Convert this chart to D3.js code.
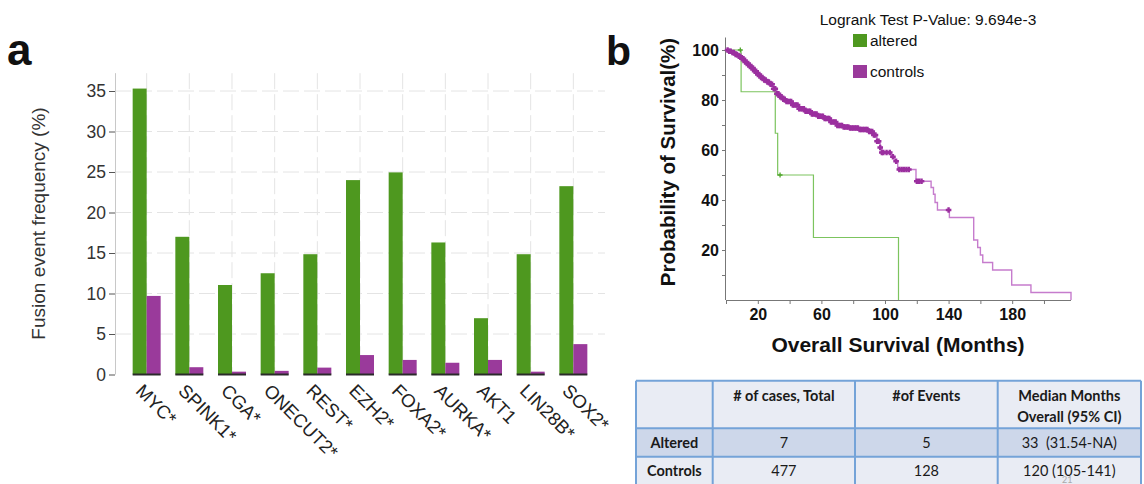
<!DOCTYPE html>
<html><head><meta charset="utf-8">
<script src="https://cdn.jsdelivr.net/npm/d3@7"></script>
<style>
html,body{margin:0;padding:0;background:#fff;}
svg{display:block;}
text{white-space:pre;}
</style></head><body>
<svg id="c" width="1144" height="484"></svg>
<script>
// ---------- Panel a data ----------
const genes = ["MYC*","SPINK1*","CGA*","ONECUT2*","REST*","EZH2*","FOXA2*","AURKA*","AKT1","LIN28B*","SOX2*"];
const alteredFreq = [35.3,17.0,11.05,12.5,14.85,24.0,24.95,16.3,6.95,14.85,23.25];
const controlFreq = [9.7,0.9,0.35,0.45,0.85,2.4,1.8,1.45,1.8,0.35,3.75];
const freqTicks = [0,5,10,15,20,25,30,35];
const freqLabel = "Fusion event frequency (%)";

// ---------- Panel b data ----------
const alteredTimes = [0,9.5,31,32.5,55,108.5];
const alteredSurv  = [100,83.3,66.7,50,25,0];
const alteredCensorT = [9,34];
const controlTimes = [0,2,4,6,8,10,12,14,16,18,20,22,24,26,28,30,32,34,36,38,42,46,50,54,58,62,66,70,74,78,84,90,93,95,97,98,104,106,108,119.5,129,130.5,131.5,133,140.5,155.8,158.3,160,161.5,167.7,179.7,191.8,217];
const controlSurv  = [100,99.5,99,98.2,97.5,96.5,95.2,94,92.8,91.5,90.2,89,88,87.2,86.3,84.5,82.5,81.3,80.3,79.4,78,76.5,75.5,74.4,73.5,72.6,71.2,69.8,69.2,68.8,68.2,67.4,66,63.5,61,59,57.3,55.5,52.2,47.5,45,42.3,39,36,33,24,21,18,15,12,6,3,0];
const controlCensorT = [1,2,3,4,5,6,7,8,9,10,11,12,13,14,15,16,17,18,19,20,21,22,23,24,25,26,27,28,29,30,31,32,33,34,35,36,37,38,39,40,41,42,43,44,45,46,47,48,49,50,51,52,53,54,55,56,57,58,59,60,61,62,63,64,65,66,67,68,69,70,71,72,73,74,75,76,77,78,79,80,81,82,83,84,85,86,87,88,89,90,91,92,93,94,95,96,97,98,99,101,103,105,107,109,110.5,112,113.5,115,120,121.5,123,140];
const survXTicks = [0,20,40,60,80,100,120,140,160,180,200];
const survXLabels = [20,60,100,140,180];
const survYTicks = [10,20,30,40,50,60,70,80,90,100];
const survYLabels = [20,40,60,80,100];
const pValueText = "Logrank Test P-Value: 9.694e-3";
const legendLabels = ["altered","controls"];
const survXTitle = "Overall Survival (Months)";
const survYTitle = "Probability of Survival(%)";

// ---------- Table data ----------
const tableHeader = ["", "# of cases, Total", "#of Events", "Median Months|Overall (95% CI)"];
const tableRows = [["Altered","7","5","33  (31.54-NA)"],["Controls","477","128","120 (105-141)"]];

const GREEN = "#4e981f", PURPLE = "#9a3a9b";
const svg = d3.select("#c");

// ================= Panel a =================
const ga = svg.append("g");
const ax = d3.scaleBand().domain(genes).range([115,605]).paddingInner(0.344).paddingOuter(0.414);
const ay = d3.scaleLinear().domain([0,35]).range([374.5,91]);
const yTop = ay(37.2);
const bw = ax.bandwidth();

ga.append("g").selectAll("line").data(freqTicks.filter(d=>d>0)).join("line")
  .attr("x1",115).attr("x2",605).attr("y1",d=>ay(d)).attr("y2",d=>ay(d))
  .attr("stroke","#e4e4e4").attr("stroke-width",1).attr("stroke-dasharray","16,5");
ga.append("g").selectAll("line").data(genes).join("line")
  .attr("x1",d=>ax(d)+bw/2).attr("x2",d=>ax(d)+bw/2).attr("y1",yTop).attr("y2",ay(0))
  .attr("stroke","#e4e4e4").attr("stroke-width",1).attr("stroke-dasharray","16,5");

ga.append("g").selectAll("rect").data(genes).join("rect")
  .attr("x",d=>ax(d)).attr("width",bw/2)
  .attr("y",(d,i)=>ay(alteredFreq[i])).attr("height",(d,i)=>ay(0)-ay(alteredFreq[i]))
  .attr("fill",GREEN);
ga.append("g").selectAll("rect").data(genes).join("rect")
  .attr("x",d=>ax(d)+bw/2).attr("width",bw/2)
  .attr("y",(d,i)=>ay(controlFreq[i])).attr("height",(d,i)=>ay(0)-ay(controlFreq[i]))
  .attr("fill",PURPLE);
ga.append("g").selectAll("line").data(genes).join("line")
  .attr("x1",d=>ax(d)).attr("x2",d=>ax(d)+bw).attr("y1",ay(0)).attr("y2",ay(0))
  .attr("stroke","#2a2a2a").attr("stroke-width",2);

const yAxisA = ga.append("g").attr("transform","translate(115,0)")
  .call(d3.axisLeft(ay).tickValues(freqTicks).tickSize(6).tickPadding(3));
yAxisA.select(".domain").remove();
yAxisA.selectAll(".tick line").attr("stroke","#555");
yAxisA.selectAll(".tick text").attr("font-family","Liberation Sans, Arial, sans-serif").attr("font-size",17.5).attr("fill","#333");
ga.append("line").attr("x1",115.5).attr("x2",115.5).attr("y1",yTop).attr("y2",ay(0))
  .attr("stroke","#c8c8c8").attr("stroke-width",1);

ga.append("g").selectAll("text").data(genes).join("text")
  .attr("transform",d=>`translate(${ax(d)+bw/2-12},392) rotate(45)`)
  .attr("font-family","Liberation Sans, Arial, sans-serif").attr("font-size",18.5).attr("fill","#222")
  .text(d=>d);

ga.append("text").attr("transform",`translate(45,${(105+342)/2}) rotate(-90)`)
  .attr("text-anchor","middle").attr("font-family","Liberation Sans, Arial, sans-serif")
  .attr("font-size",19).attr("fill","#333").text(freqLabel);

svg.append("text").attr("x",7).attr("y",65).attr("font-family","Liberation Sans, Arial, sans-serif")
  .attr("font-weight","bold").attr("font-size",44).attr("fill","#111").text("a");
svg.append("text").attr("x",606).attr("y",65).attr("font-family","Liberation Sans, Arial, sans-serif")
  .attr("font-weight","bold").attr("font-size",41).attr("fill","#111").text("b");

// ================= Panel b =================
const gb = svg.append("g");
const sx = d3.scaleLinear().domain([0,217]).range([726,1071]);
const sy = d3.scaleLinear().domain([0,105]).range([300,37.5]);
const FONT = "Liberation Sans, Arial, sans-serif";

const xAx = gb.append("g").attr("transform","translate(0,300)")
  .call(d3.axisBottom(sx).tickValues(survXTicks).tickSize(4).tickFormat(d=>survXLabels.includes(d)?d:"").tickPadding(5));
xAx.select(".domain").attr("stroke","#777").attr("d","M726,0.5H1071");
xAx.selectAll(".tick line").attr("stroke","#777");
xAx.selectAll(".tick text").attr("font-family",FONT).attr("font-weight","bold").attr("font-size",16).attr("fill","#111");

const yAx = gb.append("g").attr("transform","translate(726,0)")
  .call(d3.axisLeft(sy).tickValues(survYTicks).tickSize(4).tickFormat(d=>survYLabels.includes(d)?d:"").tickPadding(3));
yAx.select(".domain").attr("stroke","#777").attr("d","M-0.5,37.5V300");
yAx.selectAll(".tick line").attr("stroke","#777");
yAx.selectAll(".tick text").attr("font-family",FONT).attr("font-weight","bold").attr("font-size",16).attr("fill","#111");

const stepLine = d3.line().x(d=>sx(d[0])).y(d=>sy(d[1])).curve(d3.curveStepAfter);
const survAt = (times, surv, t) => { let s = surv[0]; for (let i=0;i<times.length;i++){ if (times[i] <= t) s = surv[i]; } return s; };

const ctrlPts = controlTimes.map((t,i)=>[t,controlSurv[i]]);
gb.append("path").attr("d",stepLine(ctrlPts)).attr("fill","none").attr("stroke","#c67ccd").attr("stroke-width",1.4);
const altPts = alteredTimes.map((t,i)=>[t,alteredSurv[i]]);
gb.append("path").attr("d",stepLine(altPts)).attr("fill","none").attr("stroke","#7cc45e").attr("stroke-width",1.2);

const plus = (g, censor, times, surv, color, r, w) => {
  g.append("g").selectAll("path").data(censor).join("path")
    .attr("d", t => { const x = sx(t), y = sy(survAt(times, surv, t)); return `M${x-r},${y}H${x+r}M${x},${y-r}V${y+r}`; })
    .attr("stroke",color).attr("stroke-width",w).attr("fill","none");
};
plus(gb, controlCensorT, controlTimes, controlSurv, "#9b2f9f", 2.8, 2.4);
plus(gb, alteredCensorT, alteredTimes, alteredSurv, "#4ea52a", 2.5, 1.3);

gb.append("text").attr("x",928).attr("y",25).attr("text-anchor","middle").attr("font-family",FONT)
  .attr("font-size",15.5).attr("fill","#111").text(pValueText);
const legY = [34, 65];
gb.append("g").selectAll("rect").data(legendLabels).join("rect")
  .attr("x",853).attr("y",(d,i)=>legY[i]).attr("width",14).attr("height",13)
  .attr("fill",(d,i)=>i===0?GREEN:PURPLE);
gb.append("g").selectAll("text").data(legendLabels).join("text")
  .attr("x",870).attr("y",(d,i)=>legY[i]+12).attr("font-family",FONT).attr("font-size",15.5).attr("fill","#111")
  .text(d=>d);

gb.append("text").attr("x",898).attr("y",352).attr("text-anchor","middle").attr("font-family",FONT)
  .attr("font-weight","bold").attr("font-size",21).attr("fill","#111").text(survXTitle);
gb.append("text").attr("transform","translate(675,162) rotate(-90)").attr("text-anchor","middle").attr("font-family",FONT)
  .attr("font-weight","bold").attr("font-size",20.5).attr("fill","#111").text(survYTitle);

// ================= Table =================
const gt = svg.append("g");
const colX = [636,712.7,855,997.7,1141];
const rowY = [380.7,428.3,456.7,486];
const rowFill = ["#e9ecf4","#cdd7ea","#e9ecf4"];
const TF = "Lato, 'Open Sans', sans-serif";
gt.append("g").selectAll("rect").data(rowFill).join("rect")
  .attr("x",colX[0]).attr("width",colX[4]-colX[0]).attr("y",(d,i)=>rowY[i]).attr("height",(d,i)=>rowY[i+1]-rowY[i])
  .attr("fill",d=>d);
gt.append("g").selectAll("line").data(rowY).join("line")
  .attr("x1",colX[0]).attr("x2",colX[4]).attr("y1",d=>d).attr("y2",d=>d).attr("stroke","#74a3d8").attr("stroke-width",2);
gt.append("g").selectAll("line").data(colX).join("line")
  .attr("y1",rowY[0]).attr("y2",rowY[3]).attr("x1",d=>d).attr("x2",d=>d).attr("stroke","#74a3d8").attr("stroke-width",2);
const colC = colX.slice(0,4).map((x,i)=>(x+colX[i+1])/2);
tableHeader.forEach((h,i)=>{
  h.split("|").forEach((line,j)=>{
    gt.append("text").attr("x",colC[i]).attr("y",401+j*21).attr("text-anchor","middle").attr("font-family",TF)
      .attr("font-weight","bold").attr("font-size",14.5).attr("fill","#1a1a1a").text(line);
  });
});
const rowBase = [447.5,475.5];
tableRows.forEach((r,ri)=>{
  r.forEach((c,ci)=>{
    gt.append("text").attr("x",colC[ci]).attr("y",rowBase[ri]).attr("text-anchor","middle").attr("font-family",TF)
      .attr("font-weight",ci===0?"bold":"normal").attr("font-size",14.5).attr("fill","#1a1a1a").text(c);
  });
});
gt.append("text").attr("x",1062).attr("y",482.5).attr("font-family",TF).attr("font-size",9).attr("fill","#aaa").text("21");
</script>
</body></html>
